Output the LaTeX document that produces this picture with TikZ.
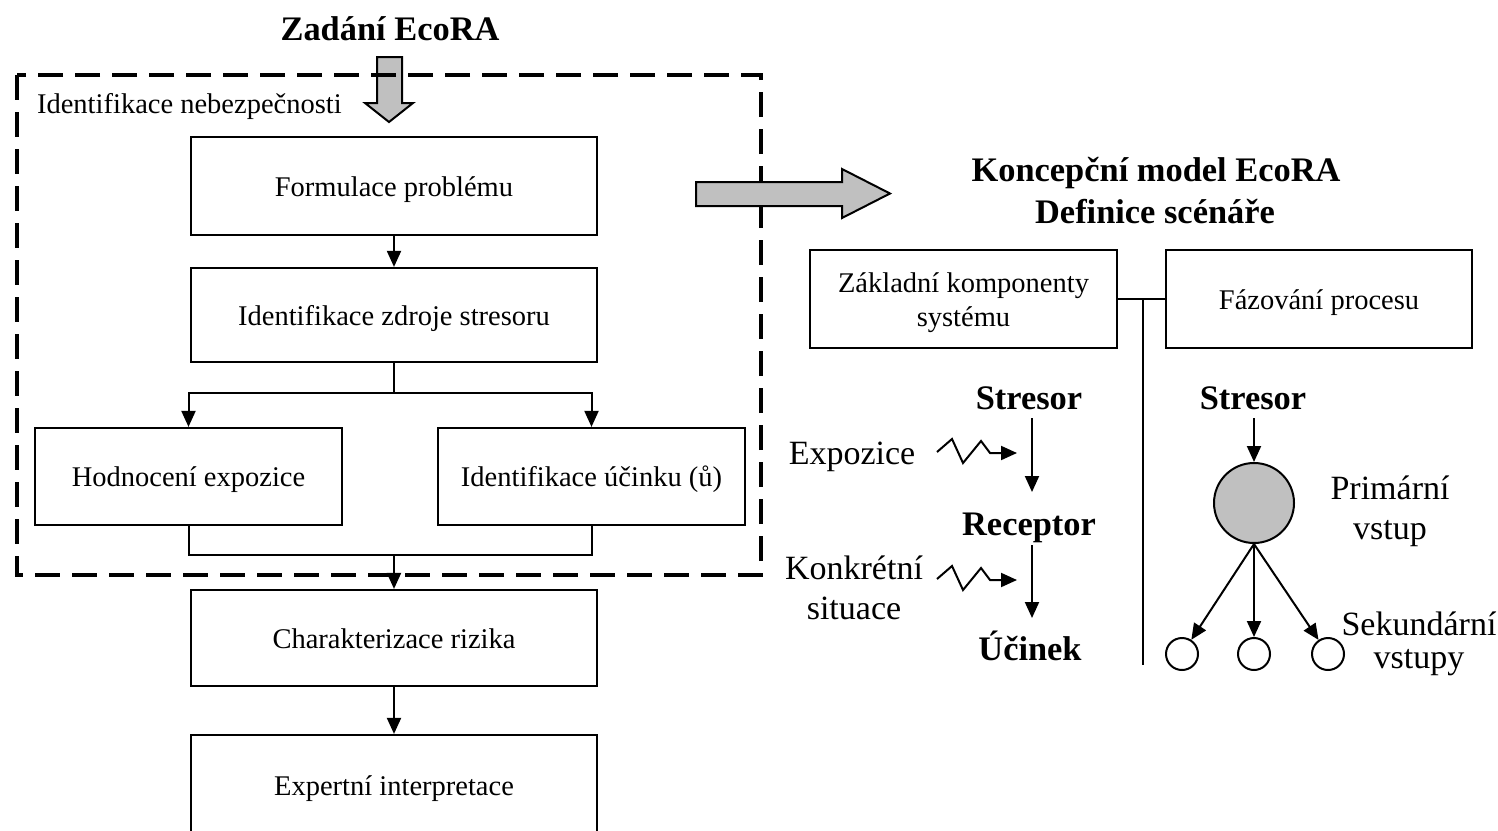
\documentclass[tikz,border=0pt]{standalone}
\usepackage{fontspec}
\setmainfont{Liberation Serif}
\usetikzlibrary{arrows.meta}
\definecolor{blockgray}{HTML}{C0C0C0}
\tikzset{
 box/.style={draw, line width=2.2pt, inner sep=0pt, align=center, font=\fontsize{28.5}{34}\selectfont},
 onebox/.style={box, text height=22pt, text depth=2pt},
 lbl/.style={inner sep=0pt, align=center, font=\fontsize{34}{40}\selectfont},
 btitle/.style={inner sep=0pt, align=center, font=\bfseries\fontsize{34.4}{42}\selectfont},
 conn/.style={line width=2pt},
 arr/.style={conn, -{Triangle[length=16pt,width=14pt]}},
 blockarrow/.style={fill=blockgray, draw, line width=2pt, line join=miter},
 dashedframe/.style={line width=4.5pt, dash pattern=on 25pt off 12pt},
 bigcirc/.style={circle, draw, line width=2pt, fill=blockgray, minimum size=80pt, inner sep=0pt},
 smallcirc/.style={circle, draw, line width=2pt, minimum size=32pt, inner sep=0pt},
}
\begin{document}
\begin{tikzpicture}[x=1pt,y=-1pt]
\useasboundingbox (0,0) rectangle (1498,830);
\fill[white] (0,0) rectangle (1498,830);

% title and block arrow down
\node[btitle, anchor=base] (zad) at (390,40) {Zadání EcoRA};
\draw[blockarrow] (377,57) -- (402,57) -- (402,103) -- (413,103) -- (389,122) -- (365,103) -- (377,103) -- cycle;

% dashed frame
\draw[dashedframe] (17,75) rectangle (761,575);
\node[box, draw=none, anchor=base west] (ident) at (36,113) {Identifikace nebezpečnosti};

% left flow boxes
\node[onebox, minimum width=406pt, minimum height=98pt] (form) at (394,186) {Formulace problému};
\node[onebox, minimum width=406pt, minimum height=94pt] (izs) at (394,315) {Identifikace zdroje stresoru};
\node[onebox, minimum width=307pt, minimum height=97pt] (hod) at (188.5,476.5) {Hodnocení expozice};
\node[onebox, minimum width=307pt, minimum height=97pt] (iu) at (591.5,476.5) {Identifikace účinku (ů)};
\node[onebox, minimum width=406pt, minimum height=96pt] (char) at (394,638) {Charakterizace rizika};
\node[onebox, minimum width=406pt, minimum height=100pt] (exp) at (394,785) {Expertní interpretace};

\draw[arr] (form.south) -- (izs.north);
\coordinate (split) at (394,393);
\draw[conn] (izs.south) -- (split);
\draw[arr] (split) -| (hod.north);
\draw[arr] (split) -| (iu.north);
\coordinate (merge) at (394,555);
\draw[conn] (hod.south) |- (merge) -| (iu.south);
\draw[arr] (merge) -- (char.north);
\draw[arr] (char.south) -- (exp.north);

% block arrow right
\draw[blockarrow] (696,182) -- (842,182) -- (842,169) -- (890,193.5) -- (842,218) -- (842,206) -- (696,206) -- cycle;

% right titles
\node[btitle, anchor=base] (kon) at (1156,181) {Koncepční model EcoRA};
\node[btitle, anchor=base] (def) at (1155,223) {Definice scénáře};

% right boxes
\node[box, minimum width=307pt, minimum height=98pt] (zk) at (963.5,299) {\raisebox{-4pt}[\height][\depth]{\begin{tabular}{@{}c@{}}Základní komponenty\\systému\end{tabular}}};
\node[onebox, minimum width=306pt, minimum height=98pt] (fp) at (1319,299) {Fázování procesu};
\coordinate (junc) at (1143,299);
\coordinate (vend) at (1143,665);
\draw[conn] (zk.east) -- (fp.west);
\draw[conn] (junc) -- (vend);

% left scheme
\node[btitle, anchor=base] (s1) at (1029,409) {Stresor};
\node[btitle, anchor=base] (rec) at (1029,535) {Receptor};
\node[btitle, anchor=base] (uc) at (1030,660) {Účinek};
\draw[arr] ([xshift=3pt,yshift=-9pt]s1.base) -- ([xshift=3pt,yshift=43pt]rec.base);
\draw[arr] ([xshift=3pt,yshift=-10pt]rec.base) -- ([xshift=2pt,yshift=42pt]uc.base);
\node[lbl, anchor=base] (expo) at (852,464) {Expozice};
\node[lbl] (konk) at (854,588) {Konkrétní\\situace};
\draw[arr, line join=miter] (937,452) -- (952,439) -- (963,463) -- (981,441) -- (990,453) -- (1017,453);
\draw[arr, line join=miter] (937,579) -- (952,566) -- (963,590) -- (981,568) -- (990,580) -- (1017,580);

% right scheme
\node[btitle, anchor=base] (s2) at (1253,409) {Stresor};
\node[bigcirc] (prim) at (1254,503) {};
\draw[arr] ([xshift=1pt,yshift=-9pt]s2.base) -- (prim.north);
\node[lbl] (primlbl) at (1390,511) {Primární\\vstup};
\node[smallcirc] (c1) at (1182,654) {};
\node[smallcirc] (c2) at (1254,654) {};
\node[smallcirc] (c3) at (1328,654) {};
\draw[arr] (prim.south) -- (c1);
\draw[arr] (prim.south) -- (c2);
\draw[arr] (prim.south) -- (c3);
\node[lbl, font=\fontsize{34}{33}\selectfont] (seklbl) at (1419,644) {Sekundární\\vstupy};
\end{tikzpicture}
\end{document}
